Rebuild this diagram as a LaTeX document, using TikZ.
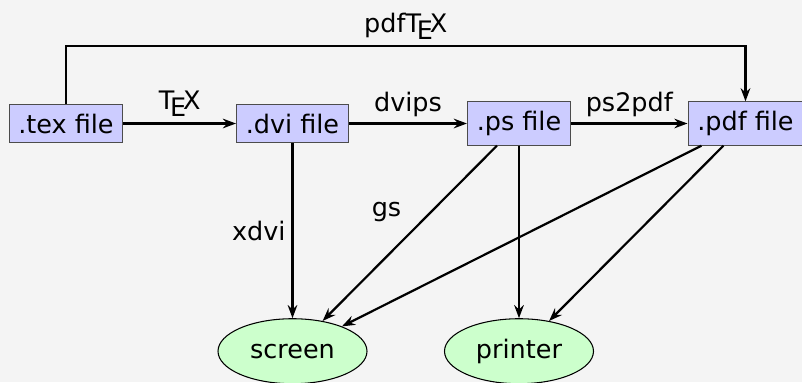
\documentclass[tikz,border=0pt]{standalone}
\usepackage{fontspec}
\setmainfont{DejaVu Sans}
\usetikzlibrary{positioning,shapes.geometric,arrows.meta}
\definecolor{bg}{HTML}{F4F4F4}
\definecolor{filefill}{HTML}{CCCCFF}
\definecolor{devicefill}{HTML}{CCFFCC}

\begin{document}
\begin{tikzpicture}[>={Stealth[length=7.5pt,width=5.5pt,inset=2.5pt]}, line width=1.25pt,
    every node/.style={font=\fontsize{14.5}{17}\selectfont},
    file/.style={rectangle, draw=black!70, line width=0.6pt, fill=filefill, inner sep=5.3pt},
    device/.style={ellipse, draw, line width=0.6pt, fill=devicefill, minimum width=2.98cm, minimum height=1.3cm}]
        \path[use as bounding box, fill=bg] (0,0) rectangle (16.04,-7.64);
        \node[file] (tex) at (1.32,-2.47) {.tex file};
        \node[file] (dvi) at (5.85,-2.47) {.dvi file};
        \node[file] (ps) at (10.38,-2.47) {.ps file};
        \node[file] (pdf) at (14.91,-2.47) {.pdf file};
        \node[device, below=3.5cm of dvi] (screen) {screen};
        \node[device] (printer) at (ps |- screen) {printer};
        \draw[->] (tex) -- (dvi) node[midway, above] {\TeX};
        \draw[->] (dvi) -- (ps) node[midway, above] {dvips};
        \draw[->] (ps) -- (pdf) node[midway, above] {ps2pdf};
        \draw[->] (tex.north) -- ++(0,1.15) -| (pdf) node[pos=0.25, above] {pdf\TeX};
        \draw[->] (dvi) -- (screen) node[midway, left] {xdvi};
        \draw[->] (ps) -- (screen) node[pos=0.38, left=0.45cm] {gs};
        \draw[->] (pdf) -- (screen);
        \draw[->] (ps) -- (printer);
        \draw[->] (pdf) -- (printer);
      \end{tikzpicture}
\end{document}
